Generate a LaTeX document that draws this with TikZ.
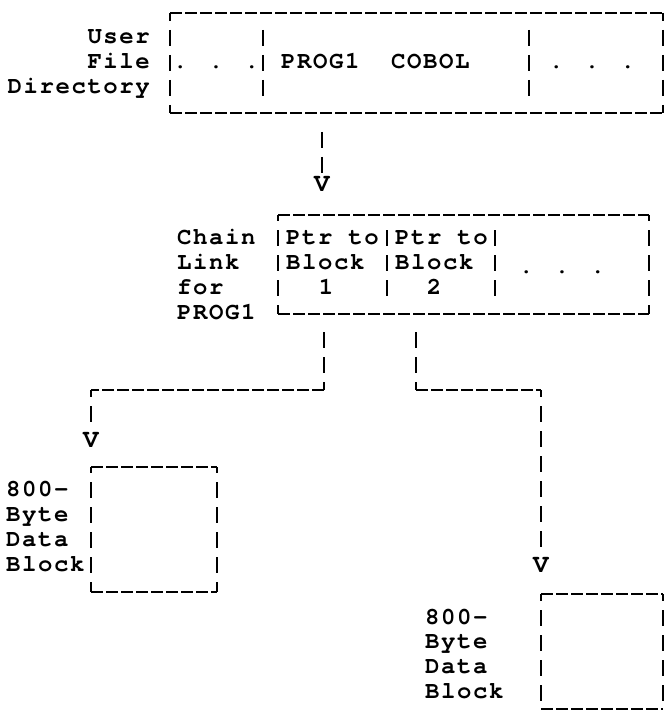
\documentclass[tikz,border=0pt]{standalone}
\usepackage{fontspec}
\newfontfamily\tw{texgyrecursor-bold}[Extension=.otf, LetterSpace=6.5, BoldFont=texgyrecursor-bold]
\begin{document}
\begin{tikzpicture}[x=1pt,y=-1pt,
  hd/.style={line width=2pt, dash pattern=on 12pt off 3pt},
  vd/.style={line width=2.1pt, dash pattern=on 16pt off 9pt},
  bxn/.style={inner sep=0pt, outer sep=0pt, anchor=north west},
  txt/.style={inner sep=0pt, font=\tw\fontsize{24}{25}\selectfont},
  lt/.style={txt, anchor=base west},
  rt/.style={txt, anchor=base east},
  ct/.style={txt, anchor=base},
  vh/.style={inner sep=0pt, anchor=base, font=\tw\fontsize{26}{26}\selectfont}]
\useasboundingbox (0,0) rectangle (665,719);

% ---------- User File Directory ----------
\node[bxn, minimum width=493pt, minimum height=100pt] (ufd) at (170,13) {};
\draw[hd] (ufd.north west) -- (ufd.north east);
\draw[hd] (ufd.south west) -- (ufd.south east);
\draw[vd, dash phase=8pt] (ufd.north west) -- (ufd.south west);
\draw[vd, dash phase=8pt] (ufd.north east) -- (ufd.south east);
\node[rt] (ufd1) at (150,44) {User};
\node[rt] (ufd2) at (150,69) {File};
\node[rt] (ufd3) at (150,94) {Directory};
\coordinate (ud1t) at (263,30); \coordinate (ud1b) at (263,96);
\coordinate (ud2t) at (529,30); \coordinate (ud2b) at (529,96);
\draw[vd] (ud1t) -- (ud1b);
\draw[vd] (ud2t) -- (ud2b);
\node[lt] (udots1) at (173,69) {. . .};
\node[lt] (uprog) at (281,69) {PROG1};
\node[lt] (ucob) at (391,69) {COBOL};
\node[lt] (udots2) at (549,69) {. . .};

% arrow 1
\coordinate (a1) at (322,132);
\coordinate (e1) at (322,173);
\node[vh] (v1) at (322,192) {V};
\draw[vd] (a1) -- (e1);

% ---------- Chain Link ----------
\node[bxn, minimum width=371pt, minimum height=99pt] (cl) at (278,215) {};
\draw[hd] (cl.north west) -- (cl.north east);
\draw[hd] (cl.south west) -- (cl.south east);
\draw[vd, dash phase=10pt] (cl.north west) -- (cl.south west);
\draw[vd, dash phase=10pt] (cl.north east) -- (cl.south east);
\node[lt] (cl1) at (177,244) {Chain};
\node[lt] (cl2) at (177,269) {Link};
\node[lt] (cl3) at (177,294) {for};
\node[lt] (cl4) at (177,319) {PROG1};
\coordinate (cd1t) at (387,230); \coordinate (cd1b) at (387,296);
\coordinate (cd2t) at (495,230); \coordinate (cd2b) at (495,296);
\draw[vd] (cd1t) -- (cd1b);
\draw[vd] (cd2t) -- (cd2b);
\node[lt] (p1a) at (286,244) {Ptr to};
\node[lt] (p1b) at (286,269) {Block};
\node[ct] (p1c) at (326,294) {1};
\node[lt] (p2a) at (395,244) {Ptr to};
\node[lt] (p2b) at (395,269) {Block};
\node[ct] (p2c) at (434,294) {2};
\node[lt] (cdots) at (519,273) {. . .};

% connectors to data blocks
\coordinate (c1) at (324,332);
\coordinate (j1) at (324,390);
\coordinate (k1) at (91,390);
\coordinate (e2) at (91,422);
\node[vh] (v2) at (91,447) {V};
\draw[vd] (c1) -- (j1);
\draw[hd] (j1) -- (k1);
\draw[vd, dash phase=9pt] (k1) -- (e2);

\coordinate (c2) at (416,332);
\coordinate (j2) at (416,390);
\coordinate (k2) at (541,390);
\coordinate (e3) at (541,547);
\node[vh] (v3) at (541,572) {V};
\draw[vd] (c2) -- (j2);
\draw[hd] (j2) -- (k2);
\draw[vd, dash phase=9pt] (k2) -- (e3);

% ---------- Data block 1 ----------
\node[bxn, minimum width=126pt, minimum height=125pt] (db1) at (91,467) {};
\draw[hd] (db1.north west) -- (db1.north east);
\draw[hd] (db1.south west) -- (db1.south east);
\draw[vd, dash phase=10pt] (db1.north west) -- (db1.south west);
\draw[vd, dash phase=10pt] (db1.north east) -- (db1.south east);
\node[lt] (d1a) at (6,496) {800-};
\node[lt] (d1b) at (6,521) {Byte};
\node[lt] (d1c) at (6,546) {Data};
\node[lt] (d1d) at (6,571) {Block};

% ---------- Data block 2 ----------
\node[bxn, minimum width=122pt, minimum height=115pt] (db2) at (541,594) {};
\draw[hd] (db2.north west) -- (db2.north east);
\draw[hd] (db2.south west) -- (db2.south east);
\draw[vd, dash phase=9pt] (db2.north west) -- (db2.south west);
\draw[vd, dash phase=9pt] (db2.north east) -- (db2.south east);
\node[lt] (d2a) at (425,624) {800-};
\node[lt] (d2b) at (425,648) {Byte};
\node[lt] (d2c) at (425,673) {Data};
\node[lt] (d2d) at (425,698) {Block};
\end{tikzpicture}
\end{document}
